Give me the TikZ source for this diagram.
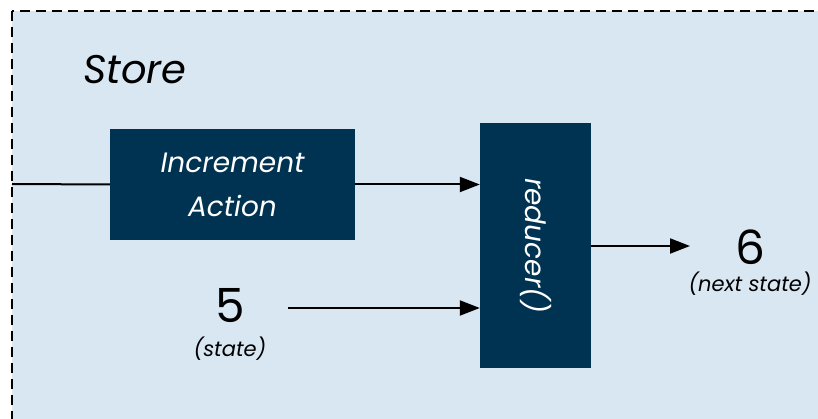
\documentclass[tikz,border=0pt]{standalone}
\usepackage{fontspec}
\setmainfont{Poppins}
\usepackage{xcolor}
\usepackage{tikz}
\usetikzlibrary{arrows.meta}
\definecolor{storebg}{RGB}{217,231,243}
\definecolor{boxblue}{RGB}{0,50,82}
\tikzset{
  darkbox/.style={fill=boxblue,draw=none,text=white,font=\fontsize{28}{44}\selectfont\itshape,align=center},
  flow/.style={draw=black,line width=2pt,-{Triangle[length=20pt,width=15pt]}},
}
\begin{document}
\begin{tikzpicture}[x=1pt,y=-1pt]
        \useasboundingbox (0,0) rectangle (818,419);
        \clip (0,0) rectangle (818,419);
        %store
        \draw[fill=storebg,draw=black,line width=2.4pt,dash pattern=on 10pt off 6pt] (12,11) rectangle (840,440);
        \node[font=\fontsize{40}{44}\selectfont\itshape] (store) at (135,70){Store};

        %boxes
        \node[style={darkbox,minimum width=245pt,minimum height=111pt}] (action) at (232.5,184.5){Increment\\Action};
        \node[style={darkbox,minimum width=111pt,minimum height=245pt}] (reducer) at (535.5,245.5){};
        \node[style={text=white,font=\fontsize{28}{36}\selectfont\itshape,rotate=-90}] (reducertext) at (reducer.center){reducer()};

        %values
        \node[font=\fontsize{47}{50}\selectfont] (five) at (230,306){5};
        \node[font=\fontsize{21}{26}\selectfont\itshape] (state) at (230,349){(state)};
        \node[font=\fontsize{47}{50}\selectfont] (six) at (750,247){6};
        \node[font=\fontsize{21}{26}\selectfont\itshape] (nextstate) at (750,284){(next state)};

        \coordinate (in) at (12,184);
        \coordinate (fivetail) at (288,308);
        \coordinate (sixtip) at (690,246);
        \draw[draw=black,line width=2pt] (in)--(action.west);
        \draw[flow] (action.east)--(action.east -| reducer.west);
        \draw[flow] (fivetail)--(fivetail -| reducer.west);
        \draw[flow] (reducer.east |- sixtip)--(sixtip);
        \end{tikzpicture}
\end{document}
